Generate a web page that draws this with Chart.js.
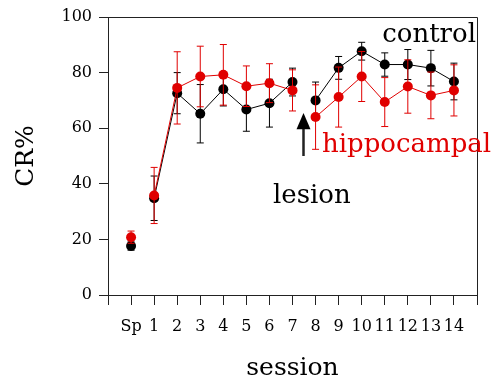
<!DOCTYPE html>
<html>
<head>
<meta charset="utf-8">
<script src="https://cdn.jsdelivr.net/npm/chart.js@4.4.1/dist/chart.umd.min.js"></script>
<style>
  html, body { margin: 0; padding: 0; background: #fff; }
  #wrap { width: 493px; height: 378px; }
</style>
</head>
<body>
<div id="wrap"><canvas id="myChart" width="493" height="378"></canvas></div>
<script>
    "use strict";

    // sessions (Sp = pre-training session)
    var sessions = ['Sp', '1', '2', '3', '4', '5', '6', '7', '8', '9', '10', '11', '12', '13', '14'];

    // mean CR% per session, with error bar half-widths
    var controlCR = [17.6, 34.8, 72.6, 65.2, 74.0, 66.7, 69.0, 76.6, 70.0, 81.7, 87.7, 82.9, 82.9, 81.6, 76.8];
    var controlErr = [1.5, 8.0, 7.4, 10.5, 6.0, 7.8, 8.6, 5.0, 6.6, 4.1, 3.2, 4.2, 5.4, 6.4, 6.6];
    var hippoCR = [20.8, 35.8, 74.5, 78.6, 79.2, 75.1, 76.2, 73.6, 64.0, 71.2, 78.6, 69.4, 75.0, 71.8, 73.6];
    var hippoErr = [2.2, 10.1, 13.0, 10.9, 10.9, 7.3, 7.0, 7.4, 11.6, 10.8, 9.0, 8.8, 9.6, 8.4, 9.2];

    var yTicks = [0, 20, 40, 60, 80, 100];

    // line breaks after these indexes (Sp | 1..7 | lesion | 8..14)
    var breakAfter = [0, 7];

    var RED = '#e00000';
    var BLACK = '#000000';
    var FONT = "'DejaVu Serif', serif";

    function toPoints(values) {
        return values.map(function (v, i) {
            return { x: i + 1, y: v };
        });
    }

    function dataset(label, values, errs, color) {
        return {
            label: label,
            data: toPoints(values),
            errors: errs,
            borderColor: color,
            backgroundColor: color,
            borderWidth: 1,
            pointRadius: 5,
            pointHoverRadius: 5,
            pointBorderWidth: 0,
            tension: 0,
            segment: {
                borderColor: function (ctx) {
                    return breakAfter.indexOf(ctx.p0DataIndex) >= 0 ? 'rgba(0,0,0,0)' : color;
                }
            }
        };
    }

    // error bars, drawn just under each dataset's own line and points
    var errorBars = {
        id: 'errorBars',
        beforeDatasetDraw: function (chart, args) {
            var ds = chart.data.datasets[args.index];
            var meta = args.meta;
            var yScale = chart.scales.y;
            var ctx = chart.ctx;
            ctx.save();
            ctx.strokeStyle = ds.borderColor;
            ctx.lineWidth = 1;
            meta.data.forEach(function (pt, i) {
                var v = ds.data[i].y;
                var e = ds.errors[i];
                var top = yScale.getPixelForValue(v + e);
                var bot = yScale.getPixelForValue(v - e);
                ctx.beginPath();
                ctx.moveTo(pt.x, top);
                ctx.lineTo(pt.x, bot);
                ctx.moveTo(pt.x - 3.5, top);
                ctx.lineTo(pt.x + 3.5, top);
                ctx.moveTo(pt.x - 3.5, bot);
                ctx.lineTo(pt.x + 3.5, bot);
                ctx.stroke();
            });
            ctx.restore();
        }
    };

    // box frame plus the text labels and lesion arrow
    var notes = {
        id: 'notes',
        afterDraw: function (chart) {
            var ctx = chart.ctx;
            var a = chart.chartArea;
            var x = chart.scales.x;
            var y = chart.scales.y;
            ctx.save();
            ctx.strokeStyle = '#222';
            ctx.lineWidth = 1;
            ctx.beginPath();
            ctx.moveTo(a.left, a.top + 0.5);
            ctx.lineTo(a.right + 0.5, a.top + 0.5);
            ctx.lineTo(a.right + 0.5, a.bottom);
            ctx.stroke();

            // lesion arrow between session 7 and 8
            var ax = Math.round(x.getPixelForValue(8.45)) + 0.5;
            var tip = y.getPixelForValue(65.5);
            var head = y.getPixelForValue(60);
            var tail = y.getPixelForValue(50);
            ctx.fillStyle = BLACK;
            ctx.lineWidth = 2.5;
            ctx.beginPath();
            ctx.moveTo(ax, head);
            ctx.lineTo(ax, tail);
            ctx.stroke();
            ctx.beginPath();
            ctx.moveTo(ax, tip);
            ctx.lineTo(ax - 7, head + 1);
            ctx.lineTo(ax + 7, head + 1);
            ctx.closePath();
            ctx.fill();

            ctx.font = '26px ' + FONT;
            ctx.textBaseline = 'alphabetic';
            ctx.fillStyle = BLACK;
            ctx.textAlign = 'right';
            ctx.fillText('control', a.right - 1, 42);
            ctx.textAlign = 'left';
            ctx.fillText('lesion', 273, 203);
            ctx.fillStyle = RED;
            ctx.fillText('hippocampal', 322, 152);
            ctx.restore();
        }
    };

    var ctx = document.getElementById('myChart').getContext('2d');
    var chart = new Chart(ctx, {
        type: 'line',
        data: {
            datasets: [
                dataset('hippocampal', hippoCR, hippoErr, RED),
                dataset('control', controlCR, controlErr, BLACK)
            ]
        },
        options: {
            responsive: false,
            animation: false,
            events: [],
            layout: {
                padding: { top: 17, right: 16, left: 0, bottom: 0 }
            },
            scales: {
                x: {
                    type: 'linear',
                    min: 0,
                    max: 16,
                    afterFit: function (scale) { scale.height = 83; },
                    afterBuildTicks: function (scale) {
                        var t = [];
                        for (var i = 0; i <= 16; i++) t.push({ value: i });
                        scale.ticks = t;
                    },
                    ticks: {
                        autoSkip: false,
                        maxRotation: 0,
                        padding: 12,
                        color: BLACK,
                        font: { family: FONT, size: 16 },
                        callback: function (value) {
                            return sessions[value - 1] || '';
                        }
                    },
                    grid: {
                        drawOnChartArea: false,
                        tickLength: 10,
                        color: '#222'
                    },
                    border: { color: '#222', width: 1 },
                    title: {
                        display: true,
                        text: 'session',
                        color: BLACK,
                        font: { family: FONT, size: 25, lineHeight: 1 },
                        padding: { top: 0, bottom: -3 }
                    }
                },
                y: {
                    min: 0,
                    max: 100,
                    afterFit: function (scale) { scale.width = 108; },
                    afterBuildTicks: function (scale) {
                        scale.ticks = yTicks.map(function (v) { return { value: v }; });
                    },
                    ticks: {
                        padding: 7,
                        color: BLACK,
                        font: { family: FONT, size: 16 }
                    },
                    grid: {
                        drawOnChartArea: false,
                        tickLength: 9,
                        color: '#222'
                    },
                    border: { color: '#222', width: 1 },
                    title: {
                        display: true,
                        text: 'CR%',
                        color: BLACK,
                        font: { family: FONT, size: 25, lineHeight: 1 },
                        padding: { top: 14, bottom: 0 }
                    }
                }
            },
            plugins: {
                legend: { display: false },
                tooltip: { enabled: false }
            }
        },
        plugins: [errorBars, notes]
    });
</script>
</body>
</html>
